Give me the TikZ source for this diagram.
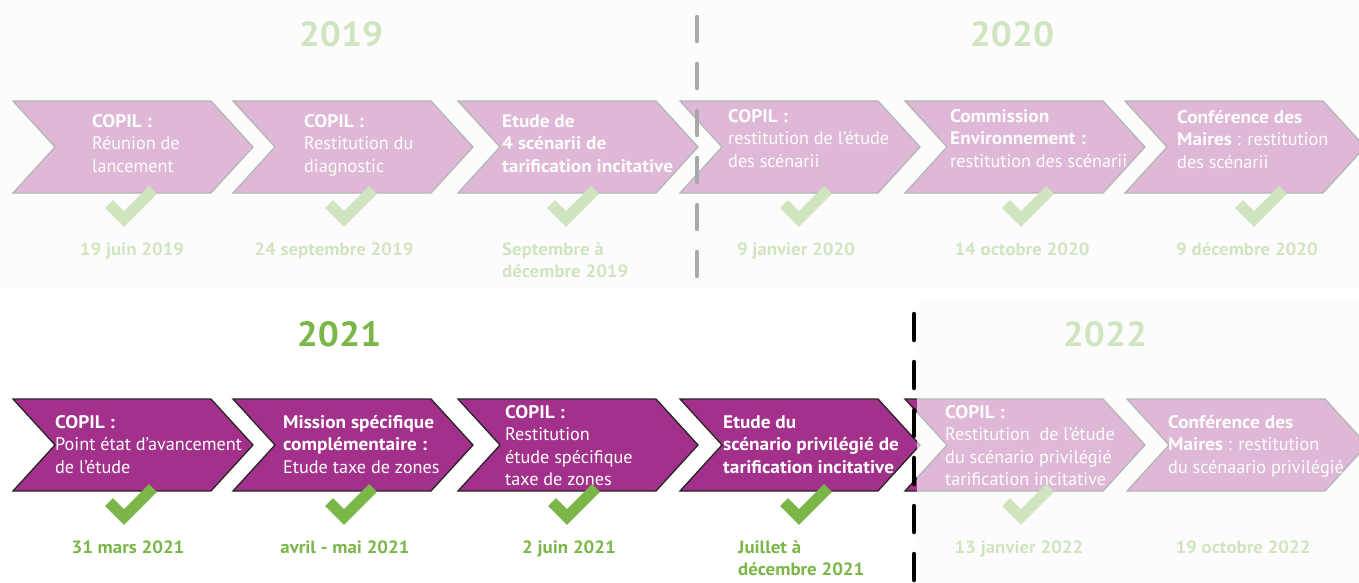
\documentclass[tikz,border=0pt]{standalone}
\usepackage{fontspec}
\setmainfont{PT Sans}[BoldFeatures={FakeStretch=1.06}]
\definecolor{plum}{RGB}{163,48,138}
\definecolor{leaf}{RGB}{122,182,72}
\definecolor{veil}{RGB}{252,252,252}
\newcommand\chevshape[2]{\path[chev] (#1,#2) -- ++(198,0) -- ++(42,46) -- ++(-42,46) -- ++(-198,0) -- ++(42,-46) -- cycle;}
\newcommand\tickmark[2]{\draw[tickline] (#1-21,#2-1) -- (#1-6,#2+14) -- (#1+23,#2-15);}
\newcommand\chevtext[4]{\node[lbl] (#1) at (#2,#3-15.75) {\strut #4};}
\begin{document}
\begin{tikzpicture}[x=1pt,y=-1pt,
  chev/.style={fill=plum, draw=black!85, line width=1.3pt, line join=miter},
  lbl/.style={text=white, anchor=north west, inner sep=0pt, align=left, font=\fontsize{18.2}{22.5}\selectfont},
  datelbl/.style={text=leaf, anchor=base, inner sep=0pt, font=\fontsize{17.8}{22}\selectfont\bfseries},
  datelbltwo/.style={text=leaf, anchor=north west, inner sep=0pt, align=left, font=\fontsize{17.8}{22}\selectfont\bfseries},
  tickline/.style={draw=leaf, line width=11pt, line join=miter, line cap=butt},
  yearlbl/.style={font=\fontsize{35}{40}\selectfont\bfseries, text=leaf, inner sep=0pt, anchor=base},
  veilbox/.style={fill=veil, fill opacity=0.67, draw=none}]
\useasboundingbox (0,0) rectangle (1359,583);
\fill[white] (0,0) rectangle (1359,583);
\clip (0,0) rectangle (1359,583);

% ---------- top row (2019 - 2020) ----------
\foreach \xx in {13,233,458,680,905,1125} {\chevshape{\xx}{101}}
\chevtext{a1}{92}{127}{\textbf{COPIL :}\\Réunion de\\lancement}
\chevtext{a2}{304}{127}{\textbf{COPIL :}\\Restitution du\\diagnostic}
\chevtext{a3}{502}{127}{\textbf{Etude de}\\\textbf{4 scénarii de}\\\textbf{tarification incitative}}
\chevtext{a4}{728}{122}{\textbf{COPIL :}\\restitution de l'étude\\des scénarii}
\chevtext{a5}{950}{122}{\textbf{Commission}\\\textbf{Environnement :}\\restitution des scénarii}
\chevtext{a6}{1177}{123}{\textbf{Conférence des}\\\textbf{Maires} : restitution\\des scénarii}
\tickmark{130}{205}
\tickmark{350}{205}
\tickmark{572}{205}
\tickmark{805}{205}
\tickmark{1027}{205}
\tickmark{1260}{205}
\node[datelbl] (d1) at (132,255) {19 juin 2019};
\node[datelbl] (d2) at (334,255) {24 septembre 2019};
\node[datelbltwo] (d3) at (502,255-15.4) {\strut Septembre à\\décembre 2019};
\node[datelbl] (d4) at (796,255) {9 janvier 2020};
\node[datelbl] (d5) at (1022,255) {14 octobre 2020};
\node[datelbl] (d6) at (1247,255) {9 décembre 2020};
\node[yearlbl] (y19) at (341,47) {2019};
\node[yearlbl] (y20) at (1012,47) {2020};
\coordinate (s1) at (697,17);
\coordinate (s2) at (697,288);
\draw[black, line width=4.5pt, line cap=round, dash pattern=on 24pt off 23pt] (s1) -- (s2);
\path[veilbox] (0,0) rectangle (1359,288);

% ---------- bottom row (2021 - 2022) ----------
\foreach \xx in {13,233,458,680,905,1127} {\chevshape{\xx}{399}}
\chevtext{b1}{55}{428}{\textbf{COPIL :}\\Point état d'avancement\\de l'étude}
\chevtext{b2}{283}{428}{\textbf{Mission spécifique}\\\textbf{complémentaire :}\\Etude taxe de zones}
\chevtext{b3}{505}{418}{\textbf{COPIL :}\\Restitution\\étude spécifique\\taxe de zones}
\chevtext{b4}{723}{428}{\textbf{Etude du}\\\textbf{scénario privilégié de}\\\textbf{tarification incitative}}
\chevtext{b5}{945}{418}{\textbf{COPIL :}\\Restitution\ \ de l'étude\\du scénario privilégié\\tarification incitative}
\chevtext{b6}{1168}{428}{\textbf{Conférence des}\\\textbf{Maires} : restitution\\du scénaario privilégié}
\tickmark{130}{503}
\tickmark{350}{503}
\tickmark{573}{503}
\tickmark{805}{503}
\tickmark{1027}{503}
\node[datelbl] (e1) at (128,553) {31 mars 2021};
\node[datelbl] (e2) at (345,553) {avril - mai 2021};
\node[datelbl] (e3) at (569,553) {2 juin 2021};
\node[datelbltwo] (e4) at (738,553-15.4) {\strut Juillet à\\décembre 2021};
\node[datelbl] (e5) at (1019,553) {13 janvier 2022};
\node[datelbl] (e6) at (1243,553) {19 octobre 2022};
\node[yearlbl] (y21) at (339,346) {2021};
\node[yearlbl] (y22) at (1105,346) {2022};
\path[veilbox] (917,300) rectangle (1359,583);
\coordinate (u1) at (914,314);
\coordinate (u2) at (914,583);
\draw[black, line width=4.5pt, line cap=round, dash pattern=on 26pt off 22pt] (u1) -- (u2);
\end{tikzpicture}
\end{document}
